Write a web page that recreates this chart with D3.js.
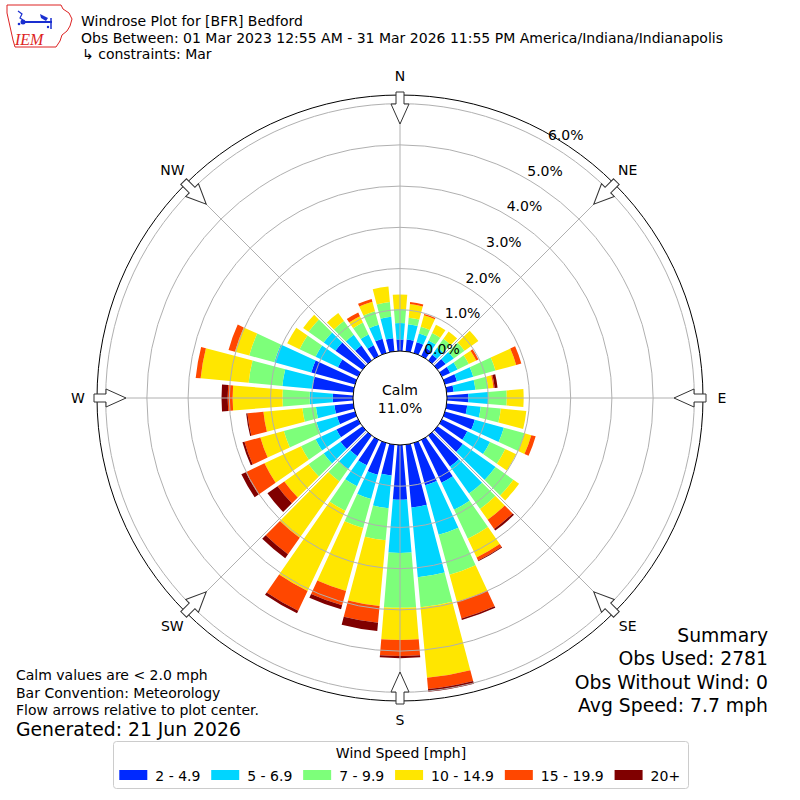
<!DOCTYPE html>
<html>
<head>
<meta charset="utf-8">
<script src="https://cdn.jsdelivr.net/npm/d3@7"></script>
<style>
  body { margin: 0; background: #fff; }
  text { font-family: "DejaVu Sans", sans-serif; fill: #000; }
</style>
</head>
<body>
<div id="chart"></div>
<script>

// Set up SVG frame
var svgWidth = 800;
var svgHeight = 800;
var cx = 400, cy = 398;

// bar directions (degrees, meteorological convention)
var directions = d3.range(0, 360, 10);

var speedBins = ["2 - 4.9", "5 - 6.9", "7 - 9.9", "10 - 14.9", "15 - 19.9", "20+"];
var binColors = ["#0029ff", "#00d5ff", "#7dff7a", "#ffe600", "#ff4700", "#800000"];

// percent of observations per direction, one list per speed bin
var pct2to5   = [0.28,0.29,0.27,0.22,0.17,0.24,0.22,0.30,0.17,0.52,0.50,0.75,0.68,0.75,0.92,1.15,1.06,1.53,
                 1.33,0.75,0.80,0.68,0.61,0.65,0.58,0.45,0.46,0.49,1.00,1.10,0.54,0.80,0.44,0.29,0.36,0.32];
var pct5to7   = [0.40,0.37,0.22,0.20,0.21,0.24,0.20,0.41,0.53,0.48,0.33,0.73,0.61,0.97,0.80,0.72,1.25,1.70,
                 1.29,0.80,0.61,0.56,0.39,0.50,0.56,0.52,0.45,0.56,0.73,0.93,0.60,0.35,0.32,0.29,0.35,0.52];
var pct7to10  = [0.34,0.16,0.17,0.20,0.26,0.32,0.30,0.56,0.31,0.45,0.49,0.52,0.41,0.53,0.46,0.78,1.00,0.73,
                 1.33,0.78,0.73,0.66,0.36,0.45,0.39,0.82,0.33,0.66,0.82,0.63,0.43,0.45,0.41,0.32,0.34,0.36];
var pct10to15 = [0.35,0.33,0.29,0.22,0.22,0.41,0.20,0.52,0.13,0.41,0.62,0.17,0.29,0.17,0.32,0.50,0.68,1.72,
                 0.78,1.60,1.58,2.15,1.67,0.72,0.98,0.59,0.95,1.21,1.17,0.36,0.33,0.16,0.24,0.17,0.24,0.38];
var pct15to20 = [0,0.05,0.03,0,0,0,0.06,0.13,0.03,0,0,0.11,0,0,0.27,0.08,0.42,0.27,
                 0.39,0.41,0.36,0.53,0.49,0.20,0.50,0.40,0.39,0.12,0.12,0.16,0,0,0,0.10,0.07,0];
var pct20up   = [0,0,0,0,0,0,0,0,0.07,0,0,0,0,0,0.05,0.02,0.04,0.07,
                 0.05,0.20,0.10,0.07,0.12,0.30,0.12,0.05,0.03,0.15,0,0,0,0,0,0,0,0];

var rTicks = [0, 1, 2, 3, 4, 5, 6];
var compassAngles = [0, 45, 90, 135, 180, 225, 270, 315];
var compassLabels = ["N", "NE", "E", "SE", "S", "SW", "W", "NW"];

var calmText = "11.0%";
var summaryLines = ["Summary", "Obs Used: 2781", "Obs Without Wind: 0", "Avg Speed: 7.7 mph"];
var noteLines = ["Calm values are < 2.0 mph", "Bar Convention: Meteorology", "Flow arrows relative to plot center."];

// build table for the stack
var binKeys = ["b0", "b1", "b2", "b3", "b4", "b5"];
var binLists = [pct2to5, pct5to7, pct7to10, pct10to15, pct15to20, pct20up];
var table = directions.map(function(d, i) {
  var row = { dir: d };
  binKeys.forEach(function(k, j) { row[k] = binLists[j][i]; });
  return row;
});
var series = d3.stack().keys(binKeys)(table);

var svg = d3.select("#chart")
  .append("svg")
  .attr("width", svgWidth)
  .attr("height", svgHeight);

var rScale = d3.scaleLinear().domain([0, 6.21]).range([47, 303]);
var rad = Math.PI / 180;

var polar = svg.append("g").attr("transform", `translate(${cx}, ${cy})`);

// stacked bars
var barArc = d3.arc()
  .innerRadius(d => rScale(d[0]))
  .outerRadius(d => rScale(d[1]))
  .startAngle(d => (d.data.dir - 4.75) * rad)
  .endAngle(d => (d.data.dir + 4.75) * rad)
  .padRadius(100)
  .padAngle(0.026);

polar.selectAll("g.bin")
  .data(series)
  .enter()
  .append("g")
  .attr("class", "bin")
  .attr("fill", (s, i) => binColors[i])
  .selectAll("path")
  .data(s => s.filter(d => d[1] - d[0] > 0))
  .enter()
  .append("path")
  .attr("d", barArc);

// gridlines on top of bars
polar.selectAll("circle.ring")
  .data(rTicks.slice(1))
  .enter()
  .append("circle")
  .attr("class", "ring")
  .attr("r", d => rScale(d))
  .attr("fill", "none")
  .attr("stroke", "#b0b0b0")
  .attr("stroke-width", 1);

polar.selectAll("line.spoke")
  .data(compassAngles)
  .enter()
  .append("line")
  .attr("x1", d => rScale(0) * Math.sin(d * rad))
  .attr("y1", d => -rScale(0) * Math.cos(d * rad))
  .attr("x2", d => rScale.range()[1] * Math.sin(d * rad))
  .attr("y2", d => -rScale.range()[1] * Math.cos(d * rad))
  .attr("stroke", "#b0b0b0")
  .attr("stroke-width", 1);

// inner (calm) and outer circles
polar.append("circle").attr("r", rScale(0)).attr("fill", "#fff").attr("stroke", "#000").attr("stroke-width", 1);
polar.append("circle").attr("r", rScale.range()[1]).attr("fill", "none").attr("stroke", "#000").attr("stroke-width", 1);

// radial tick labels
polar.selectAll("text.rlab")
  .data(rTicks)
  .enter()
  .append("text")
  .attr("x", d => rScale(d) * Math.sin(30 * rad) + 18.5)
  .attr("y", d => -rScale(d) * Math.cos(30 * rad) - 8.3)
  .attr("text-anchor", "middle")
  .attr("dominant-baseline", "central")
  .attr("font-size", "14px")
  .attr("fill", "#222")
  .text(d => d3.format(".1f")(d) + "%");

// flow arrows
var arrowPath = "M-4,-306 L4,-306 L4,-294 L9,-294 L0,-274 L-9,-294 L-4,-294 Z";
polar.selectAll("path.arrow")
  .data(compassAngles)
  .enter()
  .append("path")
  .attr("d", arrowPath)
  .attr("transform", d => `rotate(${d})`)
  .attr("fill", "#fff")
  .attr("stroke", "#333")
  .attr("stroke-width", 1);

// compass labels
polar.selectAll("text.comp")
  .data(compassAngles)
  .enter()
  .append("text")
  .attr("x", d => 322 * Math.sin(d * rad))
  .attr("y", d => -322 * Math.cos(d * rad))
  .attr("text-anchor", "middle")
  .attr("dominant-baseline", "central")
  .attr("font-size", "14px")
  .text((d, i) => compassLabels[i]);

// calm
polar.append("text").attr("x", 0).attr("y", -8).attr("text-anchor", "middle")
  .attr("dominant-baseline", "central").attr("font-size", "14px").text("Calm");
polar.append("text").attr("x", 0).attr("y", 9.5).attr("text-anchor", "middle")
  .attr("dominant-baseline", "central").attr("font-size", "14px").text(calmText);

// header
svg.append("text").attr("x", 81).attr("y", 25.5).attr("font-size", "14px").text("Windrose Plot for [BFR] Bedford");
svg.append("text").attr("x", 81).attr("y", 42.5).attr("font-size", "14px")
  .text("Obs Between: 01 Mar 2023 12:55 AM - 31 Mar 2026 11:55 PM America/Indiana/Indianapolis");
svg.append("text").attr("x", 82).attr("y", 58.5).attr("font-size", "14px").text("\u21b3 constraints: Mar");

// IEM logo
var logo = svg.append("g");
logo.append("path")
  .attr("d", "M7,5 L61,5 L63,9 L69,13 L72,19 L70,26 L67,31 L62,35 L60,41 L56,47 L15,47 L13,40 L11,31 L9,22 L7,13 Z")
  .attr("fill", "none").attr("stroke", "#d22").attr("stroke-width", 1);
logo.append("line").attr("x1", 22).attr("y1", 22).attr("x2", 52).attr("y2", 22)
  .attr("stroke", "#1a2fd0").attr("stroke-width", 2);
logo.append("circle").attr("cx", 23).attr("cy", 22).attr("r", 2.5).attr("fill", "#1a2fd0");
logo.append("path").attr("d", "M18,11 L22,14 L20,18 L23,20").attr("fill", "none").attr("stroke", "#1a2fd0").attr("stroke-width", 1.2);
logo.append("path").attr("d", "M40,14 L48,18 L46,21 L41,18 Z").attr("fill", "#1a2fd0");
logo.append("line").attr("x1", 51).attr("y1", 18).attr("x2", 51).attr("y2", 29).attr("stroke", "#1a2fd0").attr("stroke-width", 1.5);
logo.append("circle").attr("cx", 48).attr("cy", 27).attr("r", 1.2).attr("fill", "#1a2fd0");
logo.append("circle").attr("cx", 19).attr("cy", 24).attr("r", 1.3).attr("fill", "#1a2fd0");
logo.append("text").attr("x", 15).attr("y", 45).attr("font-size", "16px")
  .attr("font-style", "italic").style("font-family", "'Liberation Serif', 'DejaVu Serif', serif")
  .style("fill", "#d22").text("IEM");

// notes bottom left
svg.selectAll("text.note")
  .data(noteLines)
  .enter()
  .append("text")
  .attr("x", 16)
  .attr("y", (d, i) => 680 + i * 17.5)
  .attr("font-size", "14px")
  .text(d => d);
svg.append("text").attr("x", 16).attr("y", 736).attr("font-size", "18.8px").text("Generated: 21 Jun 2026");

// summary bottom right
svg.selectAll("text.summary")
  .data(summaryLines)
  .enter()
  .append("text")
  .attr("x", 768)
  .attr("y", (d, i) => 642 + i * 23.3)
  .attr("text-anchor", "end")
  .attr("font-size", "18.8px")
  .text(d => d);

// legend
var legend = svg.append("g");
legend.append("rect")
  .attr("x", 113.5).attr("y", 741.5).attr("width", 575).attr("height", 47).attr("rx", 3)
  .attr("fill", "#fff").attr("stroke", "#cccccc").attr("stroke-width", 1);
legend.append("text").attr("x", 401).attr("y", 757.5).attr("text-anchor", "middle")
  .attr("font-size", "14px").text("Wind Speed [mph]");

var lx = 119.3;
speedBins.forEach(function(lbl, i) {
  legend.append("rect").attr("x", lx).attr("y", 770).attr("width", 28).attr("height", 10)
    .attr("fill", binColors[i]);
  var t = legend.append("text").attr("x", lx + 36).attr("y", 780.5).attr("font-size", "14px").text(lbl);
  lx = lx + 36 + t.node().getComputedTextLength() + 10.8;
});

</script>
</body>
</html>
